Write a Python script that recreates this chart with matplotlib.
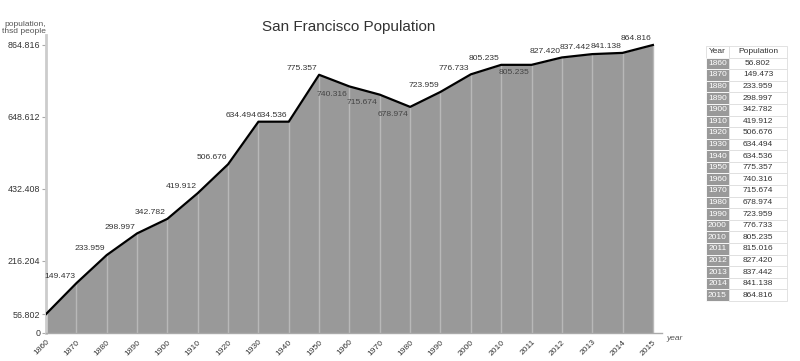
import matplotlib
matplotlib.use("Agg")
import matplotlib.pyplot as plt
import numpy as np

plt.rcParams["font.family"] = ["Liberation Sans", "DejaVu Sans"]

# data
years = ["1860", "1870", "1880", "1890", "1900", "1910", "1920", "1930", "1940", "1950",
         "1960", "1970", "1980", "1990", "2000", "2010", "2011", "2012", "2013", "2014", "2015"]
chart_pop = [56.802, 149.473, 233.959, 298.997, 342.782, 419.912, 506.676, 634.494, 634.536,
             775.357, 740.316, 715.674, 678.974, 723.959, 776.733, 805.235, 805.235, 827.420,
             837.442, 841.138, 864.816]
table_pop = [56.802, 149.473, 233.959, 298.997, 342.782, 419.912, 506.676, 634.494, 634.536,
             775.357, 740.316, 715.674, 678.974, 723.959, 776.733, 805.235, 815.016, 827.420,
             837.442, 841.138, 864.816]
label_below = ["1960", "1970", "1980", "2011"]
yticks = [0, 56.802, 216.204, 432.408, 648.612, 864.816]

txt = "#333333"
fs = 6.1
fig = plt.figure(figsize=(8, 3.61), dpi=100)

# main chart
ax = fig.add_axes([46 / 800, 28 / 361, 616 / 800, 298 / 361])
x = np.arange(len(years))
ax.fill_between(x, 0, chart_pop, color="#999999", lw=0, zorder=1)
ax.vlines(x[1:], 0, chart_pop[1:], color="#b8b8b8", lw=1, zorder=2)
ax.plot(x, chart_pop, color="black", lw=1.6, zorder=3, solid_joinstyle="round")

for i, (yr, v) in enumerate(zip(years, chart_pop)):
    if i == 0:
        continue
    if yr in label_below:
        ax.annotate(f"{v:.3f}", (i, v), xytext=(-1.5, -3), textcoords="offset points",
                    ha="right", va="top", fontsize=fs, color="#444444", zorder=4)
    else:
        ax.annotate(f"{v:.3f}", (i, v), xytext=(-1, 2), textcoords="offset points",
                    ha="right", va="bottom", fontsize=fs, color=txt, zorder=4)

ax.set_xlim(0, 20.3)
ax.set_ylim(0, 864.816 * 298 / 288)
ax.set_xticks(x)
ax.set_xticklabels(years, rotation=45, ha="right", va="top", rotation_mode="anchor",
                   fontsize=fs, color=txt)
ax.set_yticks(yticks)
ax.set_yticklabels(["0", "56.802", "216.204", "432.408", "648.612", "864.816"],
                   fontsize=6.4, color=txt)
ax.tick_params(axis="y", length=3, color="#aaaaaa", pad=1)
ax.tick_params(axis="x", length=0, pad=4)
for s in ["top", "right"]:
    ax.spines[s].set_visible(False)
ax.spines["left"].set_color("#cccccc")
ax.spines["left"].set_linewidth(2)
ax.spines["bottom"].set_color("#aaaaaa")
ax.spines["bottom"].set_linewidth(1)

fig.text(46 / 800, 326 / 361, "population,\nthsd people", ha="right", va="bottom",
         fontsize=6, color="#555555", linespacing=1.1)
fig.text(666 / 800, 22 / 361, "year", ha="left", va="center", fontsize=6,
         color="#555555", style="italic")
fig.text(349 / 800, 334 / 361, "San Francisco Population", ha="center", va="center",
         fontsize=11, color=txt)

# table
tax = fig.add_axes([706 / 800, 60 / 361, 81 / 800, 255 / 361])
tax.axis("off")
cells = [[y, f"{p:.3f}"] for y, p in zip(years, table_pop)]
colors = [["#999999", "white"] for _ in years]
tbl = tax.table(cellText=cells, colLabels=["Year", "Population"], cellColours=colors,
                colColours=["white", "white"], colWidths=[0.284, 0.716],
                bbox=[0, 0, 1, 1], cellLoc="center")
tbl.auto_set_font_size(False)
for (r, c), cell in tbl.get_celld().items():
    cell.set_edgecolor("#dddddd")
    cell.set_linewidth(0.6)
    cell.get_text().set_fontsize(6)
    if r > 0 and c == 0:
        cell.get_text().set_color("white")
        cell.set_edgecolor("white")
    else:
        cell.get_text().set_color(txt)

fig.savefig("out.png", dpi=100)
